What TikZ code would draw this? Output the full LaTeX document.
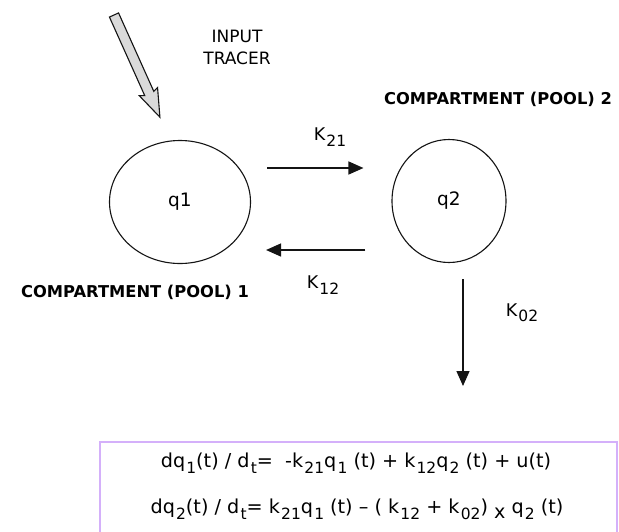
\documentclass[tikz,border=0pt]{standalone}
\usepackage{fontspec}
\setmainfont{DejaVu Sans}
\usetikzlibrary{shapes.geometric,arrows.meta,calc}
\definecolor{boxline}{RGB}{212,176,250}
\definecolor{tracerfill}{RGB}{218,218,218}
\definecolor{ink}{RGB}{20,20,20}
\newcommand\sbs[1]{\kern1.2pt\raisebox{-0.55ex}{\fontsize{15.5}{15.5}\selectfont #1}}
\tikzset{
  pool/.style={draw=ink, line width=1.1pt, ellipse, inner sep=0pt, font=\fontsize{18.5}{20}\selectfont},
  flow/.style={draw=ink, line width=1.4pt, -{Triangle[length=15pt,width=13pt]}},
  klabel/.style={font=\fontsize{17.5}{20}\selectfont, inner sep=0pt},
  comptext/.style={font=\bfseries\fontsize{16.3}{18}\selectfont, inner sep=0pt},
  tracertext/.style={font=\fontsize{17}{19}\selectfont, inner sep=0pt, align=center},
  eqtext/.style={font=\fontsize{19.2}{21}\selectfont, inner sep=0pt, anchor=center},
  eqbox/.style={draw=boxline, line width=1.8pt},
}
\begin{document}
\begin{tikzpicture}[x=1pt,y=-1pt]
\useasboundingbox (0,0) rectangle (619,531);
\fill[white] (0,0) rectangle (619,531);
\clip (0,0) rectangle (619,531);
% input tracer arrow
\begin{scope}[shift={(114,15)}, rotate=-65.8]
  \filldraw[draw=ink, fill=tracerfill, line width=1.1pt, line join=miter]
    (0,-5) -- (86,-5) -- (84,-10) -- (112,0) -- (84,10) -- (86,5) -- (0,5) -- cycle;
\end{scope}
\node[tracertext] (tracer) at (237,47) {INPUT\\[3pt]TRACER};
% pools
\node[pool, minimum width=141pt, minimum height=123pt] (q1) at (180,202) {q1};
\node[pool, minimum width=114pt, minimum height=123pt] (q2) at (449,201) {q2};
\node[comptext] (c1) at (135,292) {COMPARTMENT (POOL) 1};
\node[comptext] (c2) at (498,99) {COMPARTMENT (POOL) 2};
% flows
\draw[flow] ($(q1.east)+(16,-34)$) -- ($(q2.west)+(-28,-33)$);
\draw[flow] ($(q2.west)+(-26,49)$) -- ($(q1.east)+(15,48)$);
\coordinate (out) at (463,386);
\draw[flow] ($(q2.south)+(14,16)$) -- (out);
\node[klabel] (k21) at (330,137) {K\sbs{21}};
\node[klabel] (k12) at (323,285) {K\sbs{12}};
\node[klabel] (k02) at (522,313) {K\sbs{02}};
% equations box
\draw[eqbox] (100,442) rectangle (617,560);
\node[eqtext] (eq1) at (356,463) {dq\sbs{1}(t) / d\sbs{t}=\ \ -k\sbs{21}q\sbs{1} (t) + k\sbs{12}q\sbs{2} (t) + u(t)};
\node[eqtext] (eq2) at (357,509) {dq\sbs{2}(t) / d\sbs{t}=\ k\sbs{21}q\sbs{1} (t) -- ( k\sbs{12} + k\sbs{02})\ \raisebox{-0.5ex}{x}\ q\sbs{2} (t)};
\end{tikzpicture}
\end{document}
